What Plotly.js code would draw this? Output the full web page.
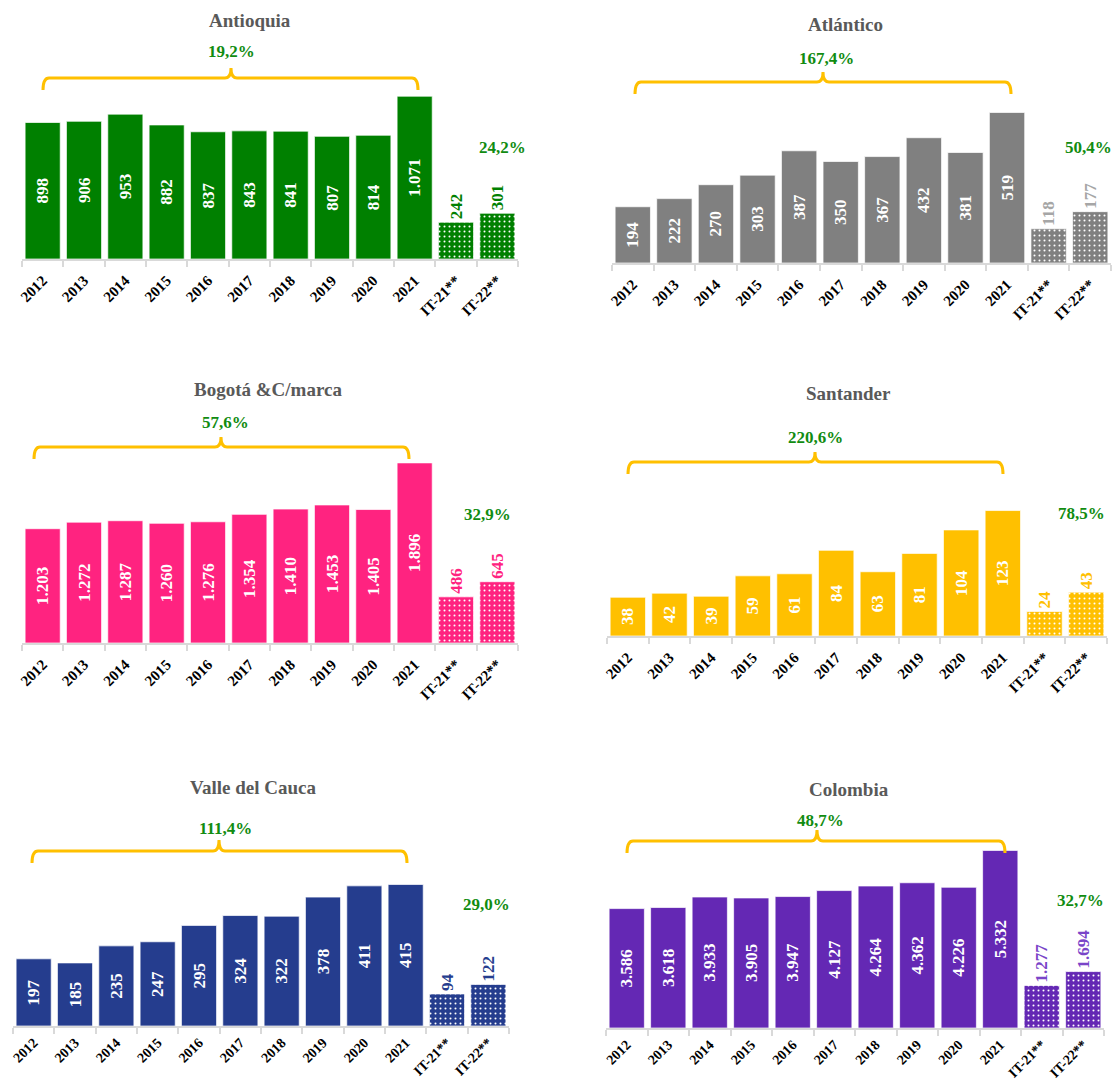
<!DOCTYPE html>
<html>
<head>
<meta charset="utf-8">
<script src="https://cdn.plot.ly/plotly-3.0.1.min.js"></script>
<style>html,body{margin:0;padding:0;background:#fff;}#chart{width:1112px;height:1082px;}</style>
</head>
<body>
<div id="chart"></div>
<script>
// ---------- DATA ----------
const yearLabels = ['2012','2013','2014','2015','2016','2017','2018','2019','2020','2021'];
const quarterLabels = ['IT-21**','IT-22**'];

const panelTitles = ['Antioquia','Atlántico','Bogotá &C/marca','Santander','Valle del Cauca','Colombia'];

const antioquiaYears = [898,906,953,882,837,843,841,807,814,1071];
const antioquiaQuarters = [242,301];
const atlanticoYears = [194,222,270,303,387,350,367,432,381,519];
const atlanticoQuarters = [118,177];
const bogotaYears = [1203,1272,1287,1260,1276,1354,1410,1453,1405,1896];
const bogotaQuarters = [486,645];
const santanderYears = [38,42,39,59,61,84,63,81,104,123];
const santanderQuarters = [24,43];
const valleYears = [197,185,235,247,295,324,322,378,411,415];
const valleQuarters = [94,122];
const colombiaYears = [3586,3618,3933,3905,3947,4127,4264,4362,4226,5332];
const colombiaQuarters = [1277,1694];

const periodGrowth = ['19,2%','167,4%','57,6%','220,6%','111,4%','48,7%'];
const quarterGrowth = ['24,2%','50,4%','32,9%','78,5%','29,0%','32,7%'];

// ---------- STYLE / LAYOUT ----------
const W = 1112, H = 1082;
const FONT = 'Liberation Serif, DejaVu Serif, serif';
const px = x => x / W;
const py = y => 1 - y / H;

const yearsData = [antioquiaYears, atlanticoYears, bogotaYears, santanderYears, valleYears, colombiaYears];
const quartersData = [antioquiaQuarters, atlanticoQuarters, bogotaQuarters, santanderQuarters, valleQuarters, colombiaQuarters];

const styles = [
  {color:'#008000', qText:'#008000', xL:22,  xR:518,  base:259,  scale:0.152,  tick:15, standoff:5, title:[250,20],  pct:[231,52],  brace:[43,418,231,78,90,68],   growth:[502,147]},
  {color:'#808080', qText:'#a6a6a6', xL:612, xR:1111, base:263,  scale:0.290,  tick:15, standoff:5, title:[845,25],  pct:[826,58],  brace:[635,1011,823,82,94,72],  growth:[1088,147]},
  {color:'#ff2380', qText:'#ff2380', xL:22,  xR:518,  base:643,  scale:0.095,  tick:15, standoff:5, title:[268,389], pct:[225,423], brace:[34,409,221,447,459,437], growth:[487,514]},
  {color:'#ffc000', qText:'#ffc000', xL:607, xR:1107, base:636,  scale:1.02,   tick:15, standoff:5, title:[848,394], pct:[815,437], brace:[628,1003,815,462,474,452], growth:[1081,513]},
  {color:'#253d8e', qText:'#253d8e', xL:13,  xR:509,  base:1026, scale:0.341,  tick:14, standoff:1, title:[253,787], pct:[225,828], brace:[32,407,219,851,863,840], growth:[486,904]},
  {color:'#6428b4', qText:'#7a45c8', xL:606, xR:1104, base:1028, scale:0.0333, tick:14, standoff:1, title:[849,789], pct:[820,820], brace:[627,1005,817,841,853,830], growth:[1080,900]}
];

const allCats = yearLabels.concat(quarterLabels);
const traces = [];
const layout = {
  width: W, height: H,
  margin: {l:0, r:0, t:0, b:0},
  paper_bgcolor: '#ffffff',
  plot_bgcolor: 'rgba(0,0,0,0)',
  showlegend: false,
  barmode: 'overlay',
  bargap: 0.15,
  separators: ',.',
  font: {family: FONT},
  annotations: [],
  shapes: []
};

styles.forEach((s, i) => {
  const n = i === 0 ? '' : String(i + 1);
  const xa = 'x' + n, ya = 'y' + n;

  traces.push({
    type: 'bar', x: yearLabels, y: yearsData[i], xaxis: xa, yaxis: ya,
    marker: {color: s.color, line: {color: 'rgba(255,255,255,0.7)', width: 1}},
    texttemplate: '%{y:,.0f}', textposition: 'inside', insidetextanchor: 'middle',
    textangle: -90, constraintext: 'none', cliponaxis: false,
    textfont: {family: FONT, size: 17, color: '#ffffff', weight: 'bold'},
    hoverinfo: 'skip'
  });
  traces.push({
    type: 'bar', x: quarterLabels, y: quartersData[i], xaxis: xa, yaxis: ya,
    marker: {color: s.color, line: {color: 'rgba(255,255,255,0.7)', width: 1},
             pattern: {shape: '.', fgcolor: '#ffffff', bgcolor: s.color, size: 5, solidity: 0.13, fillmode: 'replace'}},
    texttemplate: '%{y:,.0f}', textposition: 'outside',
    textangle: -90, constraintext: 'none', cliponaxis: false,
    textfont: {family: FONT, size: 17, color: s.qText, weight: 'bold'},
    hoverinfo: 'skip'
  });

  layout['xaxis' + n] = {
    domain: [px(s.xL), px(s.xR)], anchor: ya, type: 'category',
    categoryorder: 'array', categoryarray: allCats, range: [-0.5, 11.5],
    showline: true, linecolor: '#d9d9d9', linewidth: 2,
    ticks: 'outside', tickson: 'boundaries', ticklen: 6, tickwidth: 2, tickcolor: '#d9d9d9',
    ticklabelstandoff: s.standoff,
    tickangle: -45, tickfont: {family: FONT, size: s.tick, color: '#000000', weight: 'bold'},
    showgrid: false, zeroline: false, fixedrange: true
  };
  layout['yaxis' + n] = {
    domain: [py(s.base), py(s.base - 200)], anchor: xa,
    range: [0, 200 / s.scale], visible: false, fixedrange: true
  };

  layout.annotations.push({
    xref: 'paper', yref: 'paper', x: px(s.title[0]), y: py(s.title[1]),
    text: '<b>' + panelTitles[i] + '</b>', showarrow: false, xanchor: 'center', yanchor: 'middle',
    font: {family: FONT, size: 19, color: '#595959'}
  });
  layout.annotations.push({
    xref: 'paper', yref: 'paper', x: px(s.pct[0]), y: py(s.pct[1]),
    text: '<b>' + periodGrowth[i] + '</b>', showarrow: false, xanchor: 'center', yanchor: 'middle',
    font: {family: FONT, size: 17, color: '#118c11'}
  });
  layout.annotations.push({
    xref: 'paper', yref: 'paper', x: px(s.growth[0]), y: py(s.growth[1]),
    text: '<b>' + quarterGrowth[i] + '</b>', showarrow: false, xanchor: 'center', yanchor: 'middle',
    font: {family: FONT, size: 17, color: '#118c11'}
  });

  const [x0, x1, xc, yl, ye, yt] = s.brace;
  const r = 6;
  const P = (x, y) => px(x) + ',' + py(y);
  const path = 'M' + P(x0, ye) + ' Q' + P(x0, yl) + ' ' + P(x0 + r, yl) +
               ' L' + P(xc - r, yl) + ' Q' + P(xc, yl) + ' ' + P(xc, yt) +
               ' Q' + P(xc, yl) + ' ' + P(xc + r, yl) +
               ' L' + P(x1 - r, yl) + ' Q' + P(x1, yl) + ' ' + P(x1, ye);
  layout.shapes.push({type: 'path', xref: 'paper', yref: 'paper', path: path,
    line: {color: '#ffc000', width: 3}});
});

Plotly.newPlot('chart', traces, layout, {staticPlot: true, displayModeBar: false});
</script>
</body>
</html>
